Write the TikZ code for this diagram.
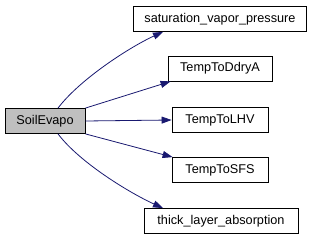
\documentclass[tikz,border=0pt]{standalone}
\usepackage{fontspec}
\setmainfont{Liberation Sans}
\usetikzlibrary{arrows.meta}
\definecolor{edgeblue}{HTML}{191970}
\definecolor{rootgray}{HTML}{BFBFBF}
\begin{document}
\begin{tikzpicture}[x=1pt,y=-1pt,
  fn/.style={draw=black, fill=white, line width=0.8pt, minimum height=25pt, inner sep=0pt, font=\fontsize{12.7}{14}\selectfont},
  rootfn/.style={fn, fill=rootgray},
  call/.style={draw=edgeblue, line width=0.8pt, -{Triangle[length=10pt,width=7pt]}, fill=none}]
\useasboundingbox (0,0) rectangle (313,240);
\node[rootfn, minimum width=80pt] (soil) at (45,121) {SoilEvapo};
\node[fn, minimum width=173pt] (sat) at (220,19) {saturation\_vapor\_pressure};
\node[fn, minimum width=104pt] (ddry) at (220,68.5) {TempToDdryA};
\node[fn, minimum width=96pt] (lhv) at (220,120) {TempToLHV};
\node[fn, minimum width=96pt] (sfs) at (220,170) {TempToSFS};
\node[fn, minimum width=154pt] (thick) at (221,221) {thick\_layer\_absorption};
\draw[call] ([xshift=13pt]soil.north) .. controls +(22,-29) and +(-33,15) .. ([xshift=-57pt]sat.south);
\draw[call] (soil.north east) -- ([xshift=3pt]ddry.south west);
\draw[call] (soil.east) -- (lhv.west);
\draw[call] (soil.south east) -- ([xshift=1pt]sfs.north west);
\draw[call] ([xshift=13pt]soil.south) .. controls +(22,29) and +(-33,-15) .. ([xshift=-58pt]thick.north);
\end{tikzpicture}
\end{document}
